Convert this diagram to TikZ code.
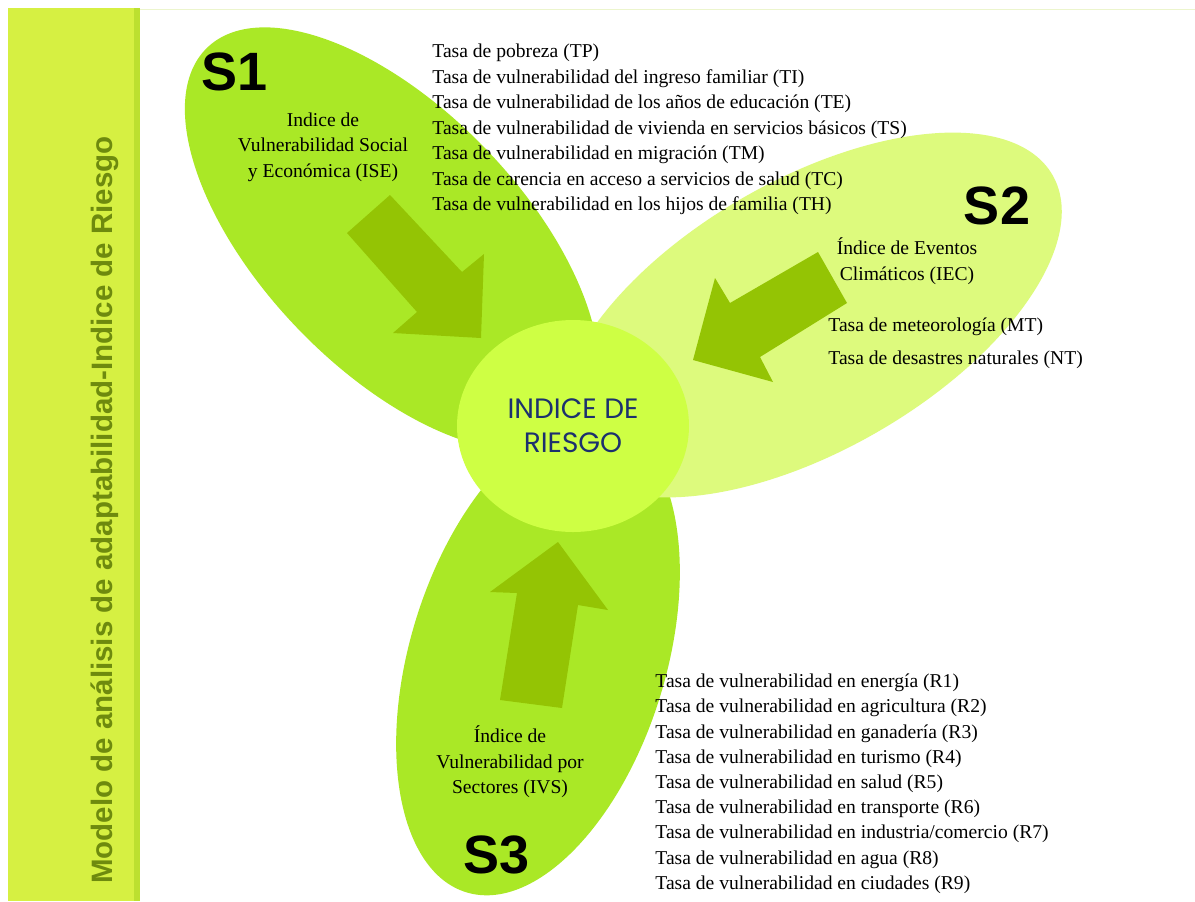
\documentclass[tikz,border=0pt]{standalone}
\usepackage{fontspec}
\setmainfont{Liberation Serif}
\newfontfamily\headfont{Liberation Sans}
\newfontfamily\hubfont{Poppins}
\usetikzlibrary{positioning,shapes.geometric}

\definecolor{leafgreen}{RGB}{170,232,38}
\definecolor{leafpale}{RGB}{221,250,125}
\definecolor{hubgreen}{RGB}{206,255,68}
\definecolor{arrowgreen}{RGB}{148,196,4}
\definecolor{barfill}{RGB}{214,240,66}
\definecolor{baredge}{RGB}{188,224,48}
\definecolor{barline}{RGB}{236,245,205}
\definecolor{bartext}{RGB}{110,138,14}
\definecolor{hubtext}{RGB}{28,48,110}

\begin{document}
\begin{tikzpicture}[x=0.5pt,y=-0.5pt,
  leaf/.style={fill=leafgreen},
  paleleaf/.style={fill=leafpale},
  bigarrow/.style={fill=arrowgreen},
  hub/.style={ellipse,fill=hubgreen,minimum width=116pt,minimum height=106pt,
    align=center,text=hubtext,font=\hubfont\fontsize{14}{17}\selectfont},
  tasa/.style={anchor=west,inner sep=0pt,font=\fontsize{9.8}{11}\selectfont},
  indice/.style={align=center,inner sep=0pt,font=\fontsize{9.8}{12.75}\selectfont},
  sector/.style={inner sep=0pt,font=\headfont\bfseries\fontsize{27}{30}\selectfont}]
  \useasboundingbox (0,0) rectangle (1195,901);
  \fill[white] (0,0) rectangle (1195,901);

  % barra lateral
  \fill[barfill] (8,8) rectangle (140,901);
  \fill[baredge] (134,8) rectangle (140,901);
  \draw[barline] (140,9) -- (1195,9);
  \node[rotate=90,text=bartext,font=\headfont\bfseries\fontsize{14.75}{16}\selectfont]
    (titulo) at (105,510) {Modelo de análisis de adaptabilidad-Indice de Riesgo};

  % hojas
  \fill[leaf,rotate around={-46:(392,239)}] (392,239) ellipse [x radius=266,y radius=130];
  \fill[leaf,rotate around={-17:(538,658)}] (538,658) ellipse [x radius=128,y radius=245];
  \fill[paleleaf,rotate around={30:(810,315)}] (810,315) ellipse [x radius=280,y radius=135];

  % flechas
  \fill[bigarrow] (347,233) -- (390,195) -- (462,272) -- (484,254) -- (481,338)
    -- (393,333) -- (417,312) -- cycle;
  \fill[bigarrow] (818,252) -- (847,303) -- (760,357) -- (773,382) -- (693,360)
    -- (715,278) -- (730,303) -- cycle;
  \fill[bigarrow] (500,700) -- (562,708) -- (578,605) -- (608,610) -- (558,542)
    -- (490,592) -- (517,593) -- cycle;

  \node[hub] (riesgo) at (573,426) {INDICE DE\\RIESGO};

  \node[sector] (s1) at (235,72) {S1};
  \node[sector] (s2) at (997,206) {S2};
  \node[sector] (s3) at (497,855) {S3};

  \node[indice] (ise) at (323,147) {Indice de\\Vulnerabilidad Social\\y Económica (ISE)};
  \node[indice] (iec) at (907,261) {Índice de Eventos\\Climáticos (IEC)};
  \node[indice] (ivs) at (510,762) {Índice de\\Vulnerabilidad por\\Sectores (IVS)};

  \foreach \t [count=\i] in {Tasa de pobreza (TP),
      Tasa de vulnerabilidad del ingreso familiar (TI),
      Tasa de vulnerabilidad de los años de educación (TE),
      Tasa de vulnerabilidad de vivienda en servicios básicos (TS),
      Tasa de vulnerabilidad en migración (TM),
      Tasa de carencia en acceso a servicios de salud (TC),
      Tasa de vulnerabilidad en los hijos de familia (TH)}
    \node[tasa] (ts\i) at (432,{53+25.5*(\i-1)}) {\t};

  \node[tasa] (mt) at (828,327) {Tasa de meteorología (MT)};
  \node[tasa] (nt) at (828,360) {Tasa de desastres naturales (NT)};

  \foreach \t [count=\i] in {energía (R1),agricultura (R2),ganadería (R3),
      turismo (R4),salud (R5),transporte (R6),industria/comercio (R7),
      agua (R8),ciudades (R9)}
    \node[tasa] (r\i) at (655,{683+25.2*(\i-1)}) {Tasa de vulnerabilidad en \t};
\end{tikzpicture}
\end{document}
